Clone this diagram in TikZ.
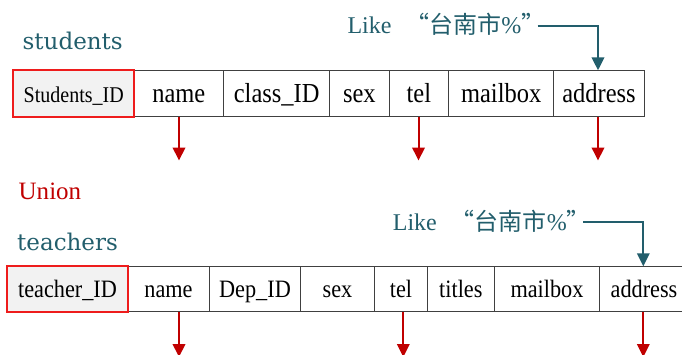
\documentclass[tikz,border=0pt]{standalone}
\usepackage{fontspec}
\usepackage{graphicx}
\setmainfont{Liberation Serif}
\newfontfamily\serifcell{Liberation Serif}
\newfontfamily\titlefont{DejaVu Serif}
\newfontfamily\cjk{Noto Sans CJK TC}
\newcommand\narrowtxt[1]{\scalebox{0.89}[1]{#1}}
\usetikzlibrary{arrows.meta}
\definecolor{tealc}{HTML}{225E6C}
\definecolor{darkred}{HTML}{C00000}
\definecolor{boxred}{HTML}{EE1C1C}
\definecolor{keyfill}{HTML}{F2F2F2}
\tikzset{
  cell/.style={draw=black!75, line width=1pt, anchor=north west, inner sep=0pt,
               text height=20pt, text depth=3.2pt},
  topcell/.style={cell, minimum height=46pt, font=\serifcell\fontsize{27.5}{30}\selectfont},
  botcell/.style={cell, minimum height=45pt, font=\serifcell\fontsize{25}{28}\selectfont},
  keycell/.style={fill=keyfill},
  keyframe/.style={draw=boxred, line width=2pt},
  redarrow/.style={draw=darkred, line width=2pt, -{Triangle[width=12.5pt,length=13pt]}},
  tealarrow/.style={draw=tealc, line width=2pt, -{Triangle[width=12.5pt,length=13pt]}},
  tabletitle/.style={anchor=base west, inner sep=0pt, text=tealc, font=\titlefont\fontsize{23}{26}\selectfont},
  liketext/.style={anchor=base west, inner sep=0pt, text=tealc, font=\serifcell\fontsize{24}{28}\selectfont},
}
\begin{document}
\begin{tikzpicture}[x=1pt,y=-1pt]
\useasboundingbox (0,0) rectangle (682,354);
\clip (0,0) rectangle (682,354);

% ---------- students ----------
\node[tabletitle] (tstud) at (22.5,49.3) {students};

\node[topcell, keycell, minimum width=120pt, font=\serifcell\fontsize{22.5}{26}\selectfont] (sid) at (13.3,70.3) {\narrowtxt{Students\_ID}};
\node[topcell, minimum width=90pt]    (sname)  at (133.3,70.3) {\narrowtxt{name}};
\node[topcell, minimum width=105.7pt] (sclass) at (223.3,70.3) {\narrowtxt{class\_ID}};
\node[topcell, minimum width=59.7pt]  (ssex)   at (329,70.3) {\narrowtxt{sex}};
\node[topcell, minimum width=59.3pt]  (stel)   at (388.7,70.3) {\narrowtxt{tel}};
\node[topcell, minimum width=105.3pt] (smail)  at (448,70.3) {\narrowtxt{mailbox}};
\node[topcell, minimum width=90.4pt]  (saddr)  at (553.3,70.3) {\narrowtxt{address}};
\draw[keyframe] (sid.north west) rectangle (sid.south east);

\coordinate (aS1) at (179,160.5);
\coordinate (aS2) at (418.5,160.5);
\coordinate (aS3) at (598,160.5);
\draw[redarrow] (aS1 |- sname.south) -- (aS1);
\draw[redarrow] (aS2 |- stel.south) -- (aS2);
\draw[redarrow] (aS3 |- saddr.south) -- (aS3);

\node[liketext] (likeA) at (347.3,33) {Like\hspace{14pt}{\cjk “台南市}\%{\cjk ”}};
\coordinate (likeAend) at (537.7,26);
\draw[tealarrow] (likeAend) -| (aS3 |- saddr.north);

% ---------- Union ----------
\node[anchor=base west, inner sep=0pt, text=darkred, font=\serifcell\fontsize{25}{28}\selectfont] (union) at (18.5,199.3) {Union};

% ---------- teachers ----------
\node[tabletitle] (tteach) at (17,250) {teachers};

\node[botcell, keycell, minimum width=119.4pt] (tid) at (7.3,266.3) {\narrowtxt{teacher\_ID}};
\node[botcell, minimum width=82.6pt] (tname)  at (126.7,266.3) {\narrowtxt{name}};
\node[botcell, minimum width=90.4pt] (tdep)   at (209.3,266.3) {\narrowtxt{Dep\_ID}};
\node[botcell, minimum width=74.6pt] (tsex)   at (299.7,266.3) {\narrowtxt{sex}};
\node[botcell, minimum width=52.4pt] (ttel)   at (374.3,266.3) {\narrowtxt{tel}};
\node[botcell, minimum width=67.3pt] (ttitle) at (426.7,266.3) {\narrowtxt{titles}};
\node[botcell, minimum width=105pt]  (tmail)  at (494,266.3) {\narrowtxt{mailbox}};
\node[botcell, minimum width=89pt]   (taddr)  at (599,266.3) {\narrowtxt{address}};
\draw[keyframe] (tid.north west) rectangle (tid.south east);

\coordinate (aT1) at (179,357);
\coordinate (aT2) at (403.3,357);
\coordinate (aT3) at (643.3,357);
\draw[redarrow] (aT1 |- tname.south) -- (aT1);
\draw[redarrow] (aT2 |- ttel.south) -- (aT2);
\draw[redarrow] (aT3 |- taddr.south) -- (aT3);

\node[liketext] (likeB) at (392.7,230.3) {Like\hspace{14pt}{\cjk “台南市}\%{\cjk ”}};
\coordinate (likeBend) at (583.3,221.5);
\draw[tealarrow] (likeBend) -| (aT3 |- taddr.north);
\end{tikzpicture}
\end{document}
